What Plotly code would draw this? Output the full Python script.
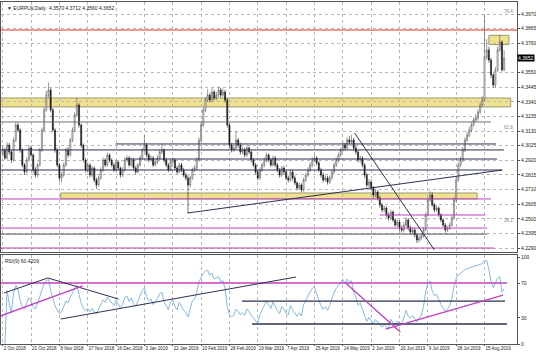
import plotly.graph_objects as go

# ---------------- data ----------------
date_labels = ["2 Oct 2018", "21 Oct 2018", "8 Nov 2018", "27 Nov 2018", "16 Dec 2018",
               "3 Jan 2019", "22 Jan 2019", "10 Feb 2019", "28 Feb 2019", "19 Mar 2019",
               "7 Apr 2019", "25 Apr 2019", "14 May 2019", "2 Jun 2019", "20 Jun 2019",
               "9 Jul 2019", "28 Jul 2019", "15 Aug 2019"]
bars_per_label = 13

closes = [
 4.2994,4.2936,4.3029,4.2979,4.2922,4.3065,4.3173,4.3137,4.2994,4.2886,
 4.2836,4.2922,4.3008,4.2958,4.2850,4.2814,4.2886,4.2994,4.3137,4.3281,
 4.3388,4.3424,4.3281,4.3137,4.2994,4.2886,4.2793,4.2814,4.2886,4.2994,
 4.2958,4.3065,4.3137,4.3245,4.3317,4.3173,4.3029,4.2922,4.2850,4.2886,
 4.2814,4.2864,4.2778,4.2742,4.2793,4.2850,4.2922,4.2886,4.2958,4.2922,
 4.2886,4.2850,4.2907,4.2864,4.2814,4.2850,4.2922,4.2936,4.2886,4.2922,
 4.2864,4.2836,4.2886,4.2936,4.2994,4.3029,4.2958,4.2922,4.2936,4.2886,
 4.2907,4.2936,4.2979,4.2994,4.2922,4.2886,4.2850,4.2907,4.2922,4.2864,
 4.2836,4.2886,4.2850,4.2814,4.2793,4.2742,4.2793,4.2850,4.2864,4.2922,
 4.3065,4.3173,4.3281,4.3353,4.3388,4.3353,4.3410,4.3367,4.3388,4.3424,
 4.3388,4.3410,4.3353,4.3173,4.3029,4.2994,4.3008,4.3065,4.3029,4.2979,
 4.2994,4.2958,4.3008,4.2979,4.2922,4.2886,4.2836,4.2793,4.2850,4.2886,
 4.2922,4.2958,4.2922,4.2886,4.2936,4.2886,4.2850,4.2814,4.2864,4.2836,
 4.2793,4.2778,4.2836,4.2793,4.2757,4.2721,4.2742,4.2706,4.2778,4.2814,
 4.2850,4.2886,4.2922,4.2936,4.2900,4.2850,4.2814,4.2778,4.2793,4.2764,
 4.2793,4.2836,4.2886,4.2922,4.2958,4.2994,4.3029,4.3008,4.3065,4.3051,
 4.3065,4.3008,4.2979,4.2922,4.2936,4.2886,4.2814,4.2742,4.2764,4.2721,
 4.2670,4.2692,4.2649,4.2599,4.2563,4.2577,4.2527,4.2505,4.2548,4.2491,
 4.2455,4.2477,4.2433,4.2419,4.2455,4.2491,4.2433,4.2405,4.2419,4.2383,
 4.2347,4.2362,4.2376,4.2419,4.2527,4.2635,4.2670,4.2599,4.2563,4.2577,
 4.2527,4.2491,4.2455,4.2419,4.2433,4.2455,4.2505,4.2635,4.2778,4.2886,
 4.2922,4.2994,4.3065,4.3101,4.3137,4.3173,4.3209,4.3223,4.3266,4.3317,
 4.3353,4.3661,4.3712,4.3640,4.3532,4.3460,4.3568,4.3712,4.3769,4.3570,
 4.3652]
highs = [
 4.3020,4.3010,4.3050,4.3045,4.2995,4.3085,4.3195,4.3190,4.3150,4.3005,
 4.2900,4.2940,4.3030,4.3020,4.2970,4.2870,4.2900,4.3010,4.3155,4.3300,
 4.3420,4.3480,4.3440,4.3295,4.3150,4.3010,4.2900,4.2835,4.2905,4.3010,
 4.3015,4.3080,4.3155,4.3265,4.3370,4.3330,4.3185,4.3040,4.2935,4.2905,
 4.2900,4.2880,4.2875,4.2795,4.2810,4.2870,4.2940,4.2935,4.2975,4.2970,
 4.2935,4.2900,4.2925,4.2920,4.2875,4.2870,4.2940,4.2955,4.2950,4.2940,
 4.2935,4.2880,4.2900,4.2955,4.3010,4.3100,4.3045,4.2975,4.2955,4.2950,
 4.2925,4.2955,4.2995,4.3040,4.3005,4.2935,4.2900,4.2925,4.2940,4.2935,
 4.2880,4.2900,4.2900,4.2865,4.2830,4.2810,4.2810,4.2870,4.2885,4.2940,
 4.3085,4.3190,4.3300,4.3375,4.3430,4.3405,4.3440,4.3425,4.3410,4.3450,
 4.3440,4.3435,4.3425,4.3365,4.3185,4.3045,4.3030,4.3130,4.3080,4.3045,
 4.3015,4.3010,4.3025,4.3020,4.2990,4.2935,4.2900,4.2850,4.2870,4.2905,
 4.2940,4.2975,4.2970,4.2935,4.2955,4.2950,4.2900,4.2865,4.2880,4.2880,
 4.2850,4.2810,4.2855,4.2850,4.2810,4.2770,4.2760,4.2755,4.2795,4.2830,
 4.2870,4.2905,4.2940,4.2960,4.2950,4.2915,4.2865,4.2830,4.2810,4.2810,
 4.2810,4.2855,4.2905,4.2940,4.2975,4.3010,4.3050,4.3045,4.3085,4.3095,
 4.3105,4.3080,4.3025,4.2995,4.2955,4.2950,4.2900,4.2830,4.2785,4.2780,
 4.2735,4.2710,4.2705,4.2665,4.2615,4.2595,4.2590,4.2545,4.2565,4.2560,
 4.2505,4.2495,4.2490,4.2450,4.2475,4.2510,4.2505,4.2450,4.2440,4.2435,
 4.2395,4.2380,4.2395,4.2440,4.2545,4.2655,4.2700,4.2690,4.2615,4.2600,
 4.2590,4.2540,4.2505,4.2470,4.2450,4.2475,4.2525,4.2655,4.2800,4.2905,
 4.2945,4.3015,4.3085,4.3125,4.3160,4.3195,4.3230,4.3250,4.3285,4.3340,
 4.3380,4.3963,4.3790,4.3735,4.3655,4.3545,4.3590,4.3735,4.3820,4.3780,
 4.3712]
lows = [
 4.2950,4.2920,4.2925,4.2960,4.2900,4.2910,4.3050,4.3120,4.2975,4.2870,
 4.2815,4.2825,4.2910,4.2940,4.2830,4.2795,4.2800,4.2875,4.2980,4.3125,
 4.3270,4.3370,4.3265,4.3120,4.2975,4.2870,4.2770,4.2760,4.2800,4.2875,
 4.2940,4.2945,4.3050,4.3125,4.3230,4.3155,4.3010,4.2905,4.2830,4.2835,
 4.2795,4.2800,4.2760,4.2715,4.2730,4.2780,4.2835,4.2870,4.2875,4.2905,
 4.2870,4.2835,4.2840,4.2850,4.2795,4.2800,4.2840,4.2905,4.2870,4.2875,
 4.2850,4.2820,4.2825,4.2875,4.2925,4.2980,4.2940,4.2905,4.2910,4.2870,
 4.2875,4.2895,4.2925,4.2965,4.2905,4.2870,4.2835,4.2840,4.2895,4.2850,
 4.2820,4.2825,4.2835,4.2800,4.2775,4.2541,4.2725,4.2780,4.2835,4.2850,
 4.2910,4.3050,4.3160,4.3265,4.3340,4.3335,4.3340,4.3350,4.3350,4.3375,
 4.3370,4.3375,4.3335,4.3155,4.3010,4.2975,4.2980,4.2995,4.3010,4.2960,
 4.2965,4.2940,4.2945,4.2965,4.2905,4.2870,4.2820,4.2775,4.2780,4.2835,
 4.2870,4.2905,4.2905,4.2870,4.2875,4.2870,4.2835,4.2795,4.2800,4.2820,
 4.2775,4.2760,4.2765,4.2775,4.2740,4.2705,4.2705,4.2690,4.2695,4.2765,
 4.2800,4.2835,4.2870,4.2905,4.2885,4.2835,4.2795,4.2760,4.2765,4.2745,
 4.2750,4.2780,4.2820,4.2870,4.2905,4.2945,4.2980,4.2990,4.2995,4.3035,
 4.3040,4.2990,4.2960,4.2905,4.2905,4.2870,4.2795,4.2725,4.2725,4.2705,
 4.2650,4.2655,4.2630,4.2580,4.2545,4.2545,4.2510,4.2485,4.2490,4.2475,
 4.2440,4.2440,4.2415,4.2400,4.2405,4.2440,4.2415,4.2390,4.2390,4.2365,
 4.2326,4.2330,4.2345,4.2365,4.2410,4.2515,4.2620,4.2585,4.2545,4.2550,
 4.2510,4.2475,4.2440,4.2400,4.2405,4.2420,4.2445,4.2495,4.2620,4.2765,
 4.2870,4.2905,4.2980,4.3050,4.3085,4.3120,4.3160,4.3195,4.3205,4.3250,
 4.3300,4.3340,4.3640,4.3620,4.3510,4.3440,4.3445,4.3555,4.3700,4.3555,
 4.3560]
first_open = 4.2965
opens = [first_open] + closes[:-1]

price_ticks = [4.3970, 4.3865, 4.3760, 4.3550, 4.3445, 4.3340, 4.3235, 4.3130,
               4.3025, 4.2920, 4.2815, 4.2710, 4.2605, 4.2500, 4.2395, 4.2290]
rsi_ticks = [0, 30, 70, 100]
rsi_period = 9
last_price = 4.3652

# drawn objects (price / bar-index space)
zones = [  # (x0, x1, p_low, p_high)
    (-1, 233.0, 4.3303, 4.3367),
    (26.6, 217.6, 4.2643, 4.2685),
    (223.0, 232.2, 4.3750, 4.3817),
]
red_level = 4.3855
levels_gray = [(-1, 224.0, 4.3195)]
levels_navy = [(51.8, 226.3, 4.3037), (-1, 229.9, 4.2994), (56.3, 226.7, 4.2929), (-1, 229.0, 4.2850)]
levels_magenta = [(-1, 224.0, 4.2642), (172.9, 221.3, 4.2527), (-1, 222.2, 4.2433), (-1, 225.4, 4.2290)]
levels_navy_low = [(-1, 222.2, 4.2390)]
trend_main = [(84.7, 4.2541, 229.1, 4.2850), (161.4, 4.3116, 198.0, 4.2276)]
fib_texts = [("76.4", 4.3985), ("61.8", 4.3153), ("38.2", 4.2484)]

rsi_h_magenta = [(-1, 231.3, 70.1)]
rsi_h_navy = [(109.8, 230.4, 49.4), (114.4, 231.3, 23.0)]
rsi_tr_navy = [(0.6, 58.6, 20.7, 75.9), (20.7, 75.9, 53.1, 51.7), (26.6, 28.7, 134.5, 77.0)]
rsi_tr_magenta = [(-1, 32.2, 36.7, 66.7), (157.3, 70.1, 182.4, 13.8), (175.6, 17.2, 229.5, 56.3)]

# ---------------- derived ----------------
n = len(closes)
idx = list(range(n))
label_idx = [i * bars_per_label for i in range(len(date_labels))]

def rsi_calc(c, period):
    out = [None]
    ag = al = 0.0
    for i in range(1, len(c)):
        d = c[i] - c[i - 1]
        g, l = max(d, 0), max(-d, 0)
        k = min(i, period)
        ag = (ag * (k - 1) + g) / k
        al = (al * (k - 1) + l) / k
        out.append(100.0 if al == 0 else 100 - 100 / (1 + ag / al))
    return out

rsi = rsi_calc(closes, rsi_period)

# ---------------- figure ----------------
NAVY = "#2c3150"
MAG = "#c23fc2"
FONT = "Liberation Sans"

fig = go.Figure()
fig.add_trace(go.Candlestick(
    x=idx, open=opens, high=highs, low=lows, close=closes,
    increasing=dict(fillcolor="#ffffff", line=dict(color="#555555", width=0.6)),
    decreasing=dict(fillcolor="#1a1a1a", line=dict(color="#1a1a1a", width=0.6)),
    whiskerwidth=0, xaxis="x", yaxis="y", showlegend=False, hoverinfo="skip"))
fig.add_trace(go.Scatter(x=idx, y=rsi, mode="lines", line=dict(color="#86b9e6", width=1),
                         xaxis="x2", yaxis="y2", showlegend=False, hoverinfo="skip"))

shapes = []
for x0, x1, lo, hi in zones:
    shapes.append(dict(type="rect", xref="x", yref="y", x0=x0, x1=x1, y0=lo, y1=hi,
                       fillcolor="#efe18e", line=dict(color="#9a9a70", width=1), layer="below"))
shapes.append(dict(type="line", xref="paper", yref="y", x0=0, x1=1, y0=red_level, y1=red_level,
                   line=dict(color="#e0302a", width=1)))
for lst, col in [(levels_gray, "#707070"), (levels_navy, NAVY), (levels_magenta, MAG), (levels_navy_low, "#555566")]:
    for x0, x1, p in lst:
        shapes.append(dict(type="line", xref="x", yref="y", x0=x0, x1=x1, y0=p, y1=p,
                           line=dict(color=col, width=1)))
for x0, y0, x1, y1 in trend_main:
    shapes.append(dict(type="line", xref="x", yref="y", x0=x0, x1=x1, y0=y0, y1=y1,
                       line=dict(color=NAVY, width=1)))
for x0, x1, v in rsi_h_magenta:
    shapes.append(dict(type="line", xref="x2", yref="y2", x0=x0, x1=x1, y0=v, y1=v, line=dict(color=MAG, width=1.5)))
for x0, x1, v in rsi_h_navy:
    shapes.append(dict(type="line", xref="x2", yref="y2", x0=x0, x1=x1, y0=v, y1=v, line=dict(color=NAVY, width=1.3)))
for x0, y0, x1, y1 in rsi_tr_navy:
    shapes.append(dict(type="line", xref="x2", yref="y2", x0=x0, x1=x1, y0=y0, y1=y1, line=dict(color=NAVY, width=1)))
for x0, y0, x1, y1 in rsi_tr_magenta:
    shapes.append(dict(type="line", xref="x2", yref="y2", x0=x0, x1=x1, y0=y0, y1=y1, line=dict(color=MAG, width=1.3)))

annotations = [
    dict(xref="paper", yref="paper", x=0.008, y=0.997, xanchor="left", yanchor="top", showarrow=False,
         text="▼ EURPLN,Daily  4.3570 4.3712 4.3560 4.3652", font=dict(family=FONT, size=5, color="#222")),
    dict(xref="paper", yref="paper", x=0.004, y=0.258, xanchor="left", yanchor="top", showarrow=False,
         text="RSI(9) 60.4209", font=dict(family=FONT, size=5, color="#222")),
    dict(xref="paper", yref="y", x=1.0, y=last_price, xanchor="left", yanchor="middle", showarrow=False,
         text=f"{last_price:.4f}", bgcolor="#000000", font=dict(family=FONT, size=5, color="#ffffff"),
         borderpad=0),
]
for t, p in fib_texts:
    annotations.append(dict(xref="paper", yref="y", x=0.997, y=p, xanchor="right", yanchor="middle",
                            showarrow=False, text=t, font=dict(family=FONT, size=4.5, color="#808080")))

x_range = [-0.78, 235.9]
grid = dict(showgrid=True, gridcolor="#b8b8b8", griddash="dot", gridwidth=1)

fig.update_layout(
    width=536, height=358, margin=dict(l=1, r=19, t=2, b=14),
    paper_bgcolor="#ffffff", plot_bgcolor="#ffffff", template="none",
    font=dict(family=FONT, size=5, color="#222"),
    shapes=shapes, annotations=annotations, showlegend=False,
    xaxis=dict(domain=[0, 1], anchor="y", range=x_range, tickvals=label_idx, showticklabels=False,
               rangeslider=dict(visible=False), zeroline=False, showline=True, mirror=True,
               linecolor="#555", linewidth=1, ticks="", automargin=False, **grid),
    xaxis2=dict(domain=[0, 1], anchor="y2", matches="x", range=x_range, tickvals=label_idx,
                ticktext=date_labels, ticklabelposition="outside right", ticks="outside", ticklen=1,
                tickangle=0,
                tickcolor="#555", tickfont=dict(family=FONT, size=4.5, color="#222"),
                zeroline=False, showline=True, mirror=True, linecolor="#555", linewidth=1,
                automargin=False, **grid),
    yaxis=dict(domain=[0.269, 1], anchor="x", side="right", range=[4.22613, 4.40562],
               tickvals=price_ticks, ticktext=[f"{p:.4f}" for p in price_ticks],
               tickfont=dict(family=FONT, size=5, color="#222"), ticks="outside", ticklen=2,
               tickcolor="#555", showline=True, mirror=True, linecolor="#555", linewidth=1,
               zeroline=False, automargin=False, **grid),
    yaxis2=dict(domain=[0, 0.2602], anchor="x2", side="right", range=[0, 102.3],
                tickvals=rsi_ticks, ticktext=[str(v) for v in rsi_ticks],
                tickfont=dict(family=FONT, size=5, color="#222"), ticks="outside", ticklen=2,
                tickcolor="#555", showline=True, mirror=True, linecolor="#555", linewidth=1,
                zeroline=False, showgrid=False, automargin=False),
)

fig.write_html("out.html")
